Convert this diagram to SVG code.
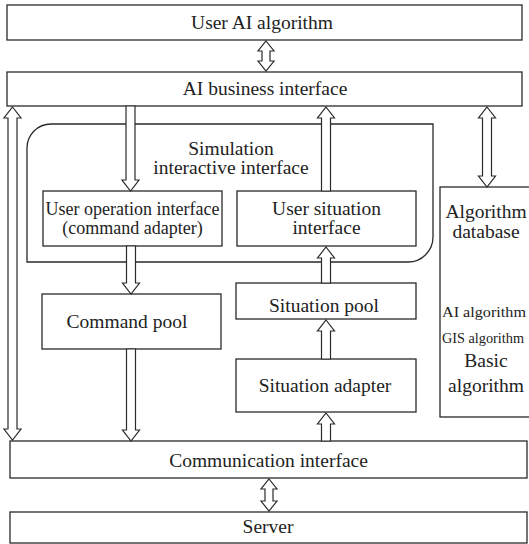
<svg xmlns="http://www.w3.org/2000/svg" width="529" height="544" viewBox="0 0 529 544">
<style>
.box{fill:#fff;stroke:#2a2a2a;stroke-width:1.3}
.cont{fill:none;stroke:#2a2a2a;stroke-width:1.3}
.arr{fill:#fff;stroke:#2a2a2a;stroke-width:1.2;stroke-linejoin:miter}
text{font-family:"Liberation Serif","Times New Roman",serif;font-size:19.5px;fill:#222;text-anchor:middle}
.sm{font-size:15px}
</style>
<rect width="529" height="544" fill="#fff"/>
<g id="container">
<path class="cont" d="M27 262 L27 148 A24 24 0 0 1 51 124 L433 124 L433 237 A25 25 0 0 1 408 262 Z"/>
<text x="231" y="155">Simulation</text>
<text x="231" y="174">interactive interface</text>
</g>
<g id="userAI"><rect class="box" x="7" y="5" width="515" height="35"/><text x="262" y="29">User AI algorithm</text></g>
<g id="aibiz"><rect class="box" x="7" y="72" width="515" height="34"/><text x="265" y="95">AI business interface</text></g>
<g id="userop"><rect class="box" x="43" y="191" width="179" height="55"/><text x="132.5" y="215" style="font-size:18px">User operation interface</text><text x="132.5" y="234" style="font-size:18px">(command adapter)</text></g>
<g id="usersit"><rect class="box" x="237" y="191" width="179" height="55"/><text x="326.5" y="215">User situation</text><text x="326.5" y="234">interface</text></g>
<g id="cmdpool"><rect class="box" x="42" y="294" width="179" height="55"/><text x="127" y="328">Command pool</text></g>
<g id="sitpool"><rect class="box" x="236" y="283" width="180" height="36"/><text x="324" y="312">Situation pool</text></g>
<g id="sitadapter"><rect class="box" x="236" y="359" width="180" height="53"/><text x="325" y="392">Situation adapter</text></g>
<g id="algdb"><rect class="box" x="440" y="187" width="92" height="230"/>
<text x="486" y="218">Algorithm</text><text x="486" y="238">database</text>
<text x="484" y="317" class="sm" textLength="84" lengthAdjust="spacingAndGlyphs">AI algorithm</text>
<text x="483" y="343" class="sm" textLength="82" lengthAdjust="spacingAndGlyphs">GIS algorithm</text>
<text x="486" y="367">Basic</text><text x="486" y="392">algorithm</text></g>
<g id="comm"><rect class="box" x="10" y="441" width="517" height="37"/><text x="268.5" y="467">Communication interface</text></g>
<g id="server"><rect class="box" x="10" y="512" width="517" height="31"/><text x="268" y="533">Server</text></g>
<g id="connectors">
<polygon class="arr" points="266,41 274,51 270,51 270,61 274,61 266,71 258,61 262,61 262,51 258,51"/>
<polygon class="arr" points="269,479 277,489 273,489 273,501 277,501 269,511 261,501 265,501 265,489 261,489"/>
<polygon class="arr" points="12.5,107 21,118 17,118 17,429 21,429 12.5,440 4,429 8,429 8,118 4,118"/>
<polygon class="arr" points="487,107 495.5,118 491.5,118 491.5,176 495.5,176 487,187 478.5,176 482.5,176 482.5,118 478.5,118"/>
<polygon class="arr" points="126,106 135,106 135,180 139,180 130.5,191 122,180 126,180"/>
<polygon class="arr" points="126.5,246 135.5,246 135.5,283 139.5,283 131,294 122.5,283 126.5,283"/>
<polygon class="arr" points="126.5,349 135.5,349 135.5,430 139.5,430 131,441 122.5,430 126.5,430"/>
<polygon class="arr" points="326,107 334.5,118 330.5,118 330.5,191 321.5,191 321.5,118 317.5,118"/>
<polygon class="arr" points="326,247 334.5,258 330.5,258 330.5,283 321.5,283 321.5,258 317.5,258"/>
<polygon class="arr" points="326,320 334.5,331 330.5,331 330.5,359 321.5,359 321.5,331 317.5,331"/>
<polygon class="arr" points="326,413 334.5,424 330.5,424 330.5,441 321.5,441 321.5,424 317.5,424"/>
</g>
</svg>
